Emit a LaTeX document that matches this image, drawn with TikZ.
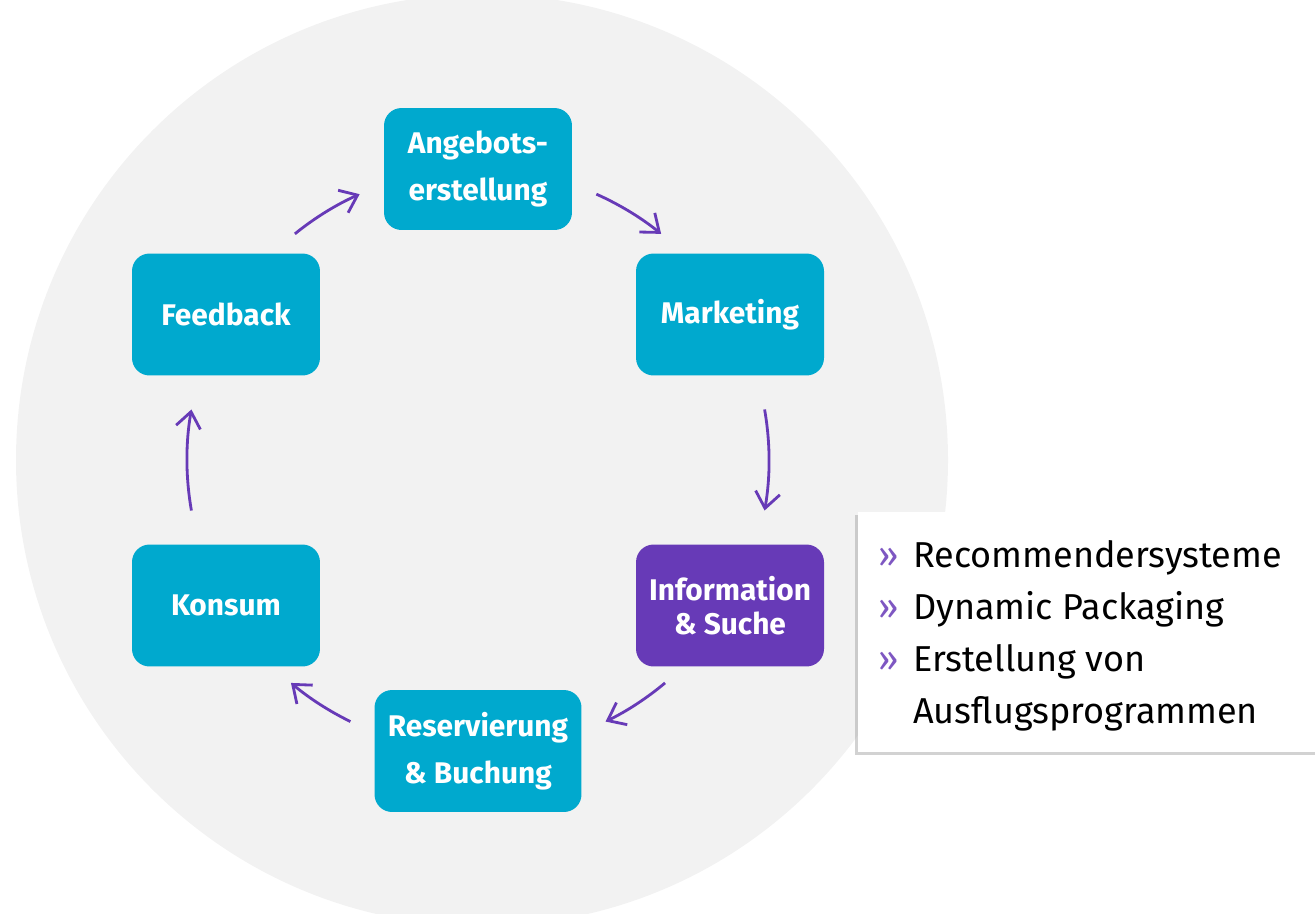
\documentclass[tikz,border=0pt]{standalone}
\usepackage{fontspec}
\setmainfont{Fira Sans}
\usepackage{xcolor}
\usetikzlibrary{arrows.meta, positioning, calc, shadows}
\definecolor{teal}{HTML}{00A9CE}
\definecolor{lilac}{HTML}{673AB7}
\definecolor{disc}{HTML}{F2F2F2}
\tikzset{
    stage/.style={rectangle, rounded corners=10pt, fill=teal, text=white, minimum width=3.76cm, minimum height=2.44cm, align=center, font=\bfseries\fontsize{17}{27}\selectfont},
    focus/.style={stage, fill=lilac, font=\bfseries\fontsize{17}{19.5}\selectfont},
    flow/.style={-{Straight Barb[length=9pt, width=14pt]}, line width=1.6pt, draw=lilac},
    panel/.style={rectangle, fill=white, minimum width=9.24cm, minimum height=4.8cm, drop shadow={shadow xshift=-1.5pt, shadow yshift=-1.5pt, fill=black!35}}
}

\begin{document}
\begin{tikzpicture}[x=0.02cm, y=-0.02cm]
    \useasboundingbox (0,0) rectangle (1315,913);
    \fill[disc] (482,460) circle (466);
    \coordinate (hub) at (478,460);
    \node[stage] (angebot) at ($(hub)+(270:291)$) {Angebots-\\erstellung};
    \node[stage] (marketing) at ($(hub)+(330:291)$) {Marketing};
    \node[focus] (suche) at ($(hub)+(30:291)$) {Information\\\& Suche};
    \node[stage, minimum width=4.14cm] (buchung) at ($(hub)+(90:291)$) {Reservierung\\\& Buchung};
    \node[stage] (konsum) at ($(hub)+(150:291)$) {Konsum};
    \node[stage] (feedback) at ($(hub)+(210:291)$) {Feedback};
    \foreach \s/\e in {231/246, 294/309, 350/370, 50/64, 116/130, 170/190}
        \draw[flow] ([shift={(\s:291)}]hub) arc[start angle=\s, end angle=\e, radius=291];
    \node[panel] (box) at (1089,632) {};
    \node[anchor=west, align=left, font=\fontsize{20.5}{29.5}\selectfont] (items) at (872,636)
        {\makebox[20pt][l]{\color{lilac!85}»}Recommendersysteme\\
         \makebox[20pt][l]{\color{lilac!85}»}Dynamic Packaging\\
         \makebox[20pt][l]{\color{lilac!85}»}Erstellung von\\
         \makebox[20pt][l]{}Ausflugsprogrammen};
\end{tikzpicture}
\end{document}
